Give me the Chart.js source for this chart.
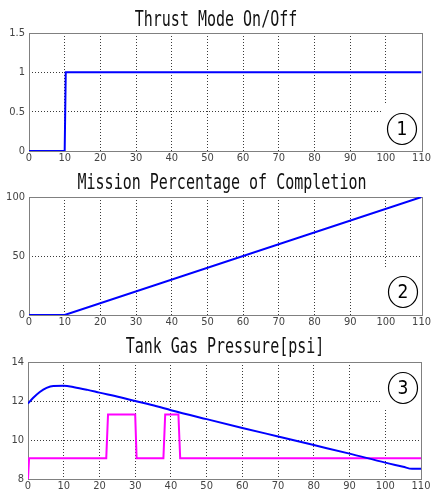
<!DOCTYPE html>
<html>
<head>
<meta charset="utf-8">
<script src="https://cdn.jsdelivr.net/npm/chart.js@4.4.0/dist/chart.umd.min.js"></script>
<style>
body { margin: 0; background: #fff; }
.panel { position: absolute; left: 0; width: 432px; }
</style>
</head>
<body>
<div class="panel" style="top:0;height:165px"><canvas id="c1" width="432" height="165"></canvas></div>
<div class="panel" style="top:165px;height:165px"><canvas id="c2" width="432" height="165"></canvas></div>
<div class="panel" style="top:330px;height:164px"><canvas id="c3" width="432" height="164"></canvas></div>
<script>
// x ticks shared by all three panels
var xTicks = [0, 10, 20, 30, 40, 50, 60, 70, 80, 90, 100, 110];

// 1) thrust mode
var thrustT = [0, 10, 10.3, 110];
var thrustV = [0, 0, 1, 1];
var thrustTicks = [0, 0.5, 1, 1.5];

// 2) mission completion %
var missionT = [0, 10, 110];
var missionV = [0, 0, 100];
var missionTicks = [0, 50, 100];

// 3) tank gas pressure
var pressT = [0, 1.4, 3.3, 5.2, 7.1, 10, 12.9, 16.7, 20, 25.8, 30, 36, 40, 50, 60, 70, 80, 90, 100, 105, 107.5, 110];
var pressV = [11.87, 12.15, 12.46, 12.67, 12.77, 12.78, 12.71, 12.57, 12.43, 12.19, 12.0, 11.73, 11.53, 11.07, 10.62, 10.18, 9.74, 9.30, 8.84, 8.63, 8.52, 8.52];
var valveT = [0, 0.3, 21.9, 22.4, 30.0, 30.4, 37.9, 38.4, 42.1, 42.6, 110];
var valveV = [8, 9.06, 9.06, 11.31, 11.31, 9.06, 9.06, 11.31, 11.31, 9.06, 9.06];
var pressTicks = [8, 10, 12, 14];

function toXY(t, v) {
    return t.map(function(x, i) { return { x: x, y: v[i] }; });
}

var tickFont = { family: '"Liberation Sans Narrow", "DejaVu Sans Condensed", sans-serif', size: 11 };

// title, white box behind the circled number, axes box, circled number
var panelDeco = {
    id: 'panelDeco',
    beforeDatasetsDraw: function(chart, args, o) {
        var ctx = chart.ctx, a = chart.chartArea;
        ctx.save();
        ctx.fillStyle = '#fff';
        var b = o.blank;
        ctx.fillRect(b[0], b[1], b[2] - b[0], b[3] - b[1]);
        ctx.strokeStyle = '#808080';
        ctx.lineWidth = 1;
        ctx.strokeRect(Math.round(a.left) + 0.5, Math.round(a.top) + 0.5,
            Math.round(a.right - a.left), Math.round(a.bottom - a.top));
        ctx.restore();
    },
    afterDraw: function(chart, args, o) {
        var ctx = chart.ctx;
        ctx.save();
        // title
        ctx.fillStyle = '#111';
        ctx.font = '15px "DejaVu Sans Mono", monospace';
        ctx.textAlign = 'center';
        ctx.textBaseline = 'alphabetic';
        ctx.translate(o.titleX, o.titleY);
        ctx.scale(1, 1.38);
        ctx.fillText(o.title, 0, 0);
        ctx.restore();
        // circled number
        ctx.save();
        ctx.strokeStyle = '#000';
        ctx.lineWidth = 1.2;
        ctx.beginPath();
        ctx.ellipse(o.markX, o.markY, 14.5, 15.5, 0, 0, Math.PI * 2);
        ctx.stroke();
        ctx.fillStyle = '#000';
        ctx.font = '19px "Liberation Sans Narrow", "DejaVu Sans Condensed", sans-serif';
        ctx.textAlign = 'center';
        ctx.textBaseline = 'middle';
        ctx.fillText(o.mark, o.markX, o.markY + 1);
        ctx.restore();
    }
};

function makePanel(id, sets, yMin, yMax, yTicks, area, deco) {
    var canvas = document.getElementById(id);
    var gridColor = function(c) {
        var s = c.scale;
        if (c.tick && (c.tick.value === s.min || c.tick.value === s.max)) return 'rgba(0,0,0,0)';
        return '#3a3a3a';
    };
    var plain = function(v) { return String(v); };
    return new Chart(canvas.getContext('2d'), {
        type: 'line',
        data: { datasets: sets },
        options: {
            responsive: false,
            animation: false,
            layout: {
                padding: { left: 0, top: area.top, right: canvas.width - area.right, bottom: canvas.height - area.bottom - 14 }
            },
            scales: {
                x: {
                    type: 'linear',
                    min: 0,
                    max: 110,
                    afterBuildTicks: function(s) { s.ticks = xTicks.map(function(v) { return { value: v }; }); },
                    afterFit: function(s) { s.height = 14; },
                    ticks: { font: tickFont, color: '#444', padding: 1, maxRotation: 0, autoSkip: false, callback: plain },
                    grid: { color: gridColor, drawTicks: false, lineWidth: 1 },
                    border: { display: false, dash: [1, 2] }
                },
                y: {
                    min: yMin,
                    max: yMax,
                    afterBuildTicks: function(s) { s.ticks = yTicks.map(function(v) { return { value: v }; }); },
                    afterFit: function(s) { s.width = area.left; },
                    ticks: { font: tickFont, color: '#444', padding: 4, callback: plain },
                    grid: { color: gridColor, drawTicks: false, lineWidth: 1 },
                    border: { display: false, dash: [1, 2] }
                }
            },
            plugins: {
                legend: { display: false },
                tooltip: { enabled: false },
                panelDeco: deco
            }
        },
        plugins: [panelDeco]
    });
}

function lineSet(t, v, color, smooth) {
    return {
        data: toXY(t, v),
        borderColor: color,
        borderWidth: 2,
        pointRadius: 0,
        fill: false,
        tension: 0,
        cubicInterpolationMode: smooth ? 'monotone' : 'default'
    };
}

makePanel('c1', [lineSet(thrustT, thrustV, '#0000ff')], 0, 1.5, thrustTicks,
    { left: 29, right: 423, top: 33, bottom: 151 },
    { title: 'Thrust Mode On/Off', titleX: 216, titleY: 26, mark: '1', markX: 402, markY: 129, blank: [382, 105, 423, 151] });

makePanel('c2', [lineSet(missionT, missionV, '#0000ff')], 0, 100, missionTicks,
    { left: 29, right: 423, top: 32, bottom: 150 },
    { title: 'Mission Percentage of Completion', titleX: 222, titleY: 24, mark: '2', markX: 403, markY: 127, blank: [385, 102, 423, 150] });

makePanel('c3', [lineSet(pressT, pressV, '#0000ff', true), lineSet(valveT, valveV, '#ff00ff')], 8, 14, pressTicks,
    { left: 28, right: 421, top: 32, bottom: 149 },
    { title: 'Tank Gas Pressure[psi]', titleX: 225, titleY: 23, mark: '3', markX: 403, markY: 58, blank: [380, 32, 421, 80] });
</script>
</body>
</html>
